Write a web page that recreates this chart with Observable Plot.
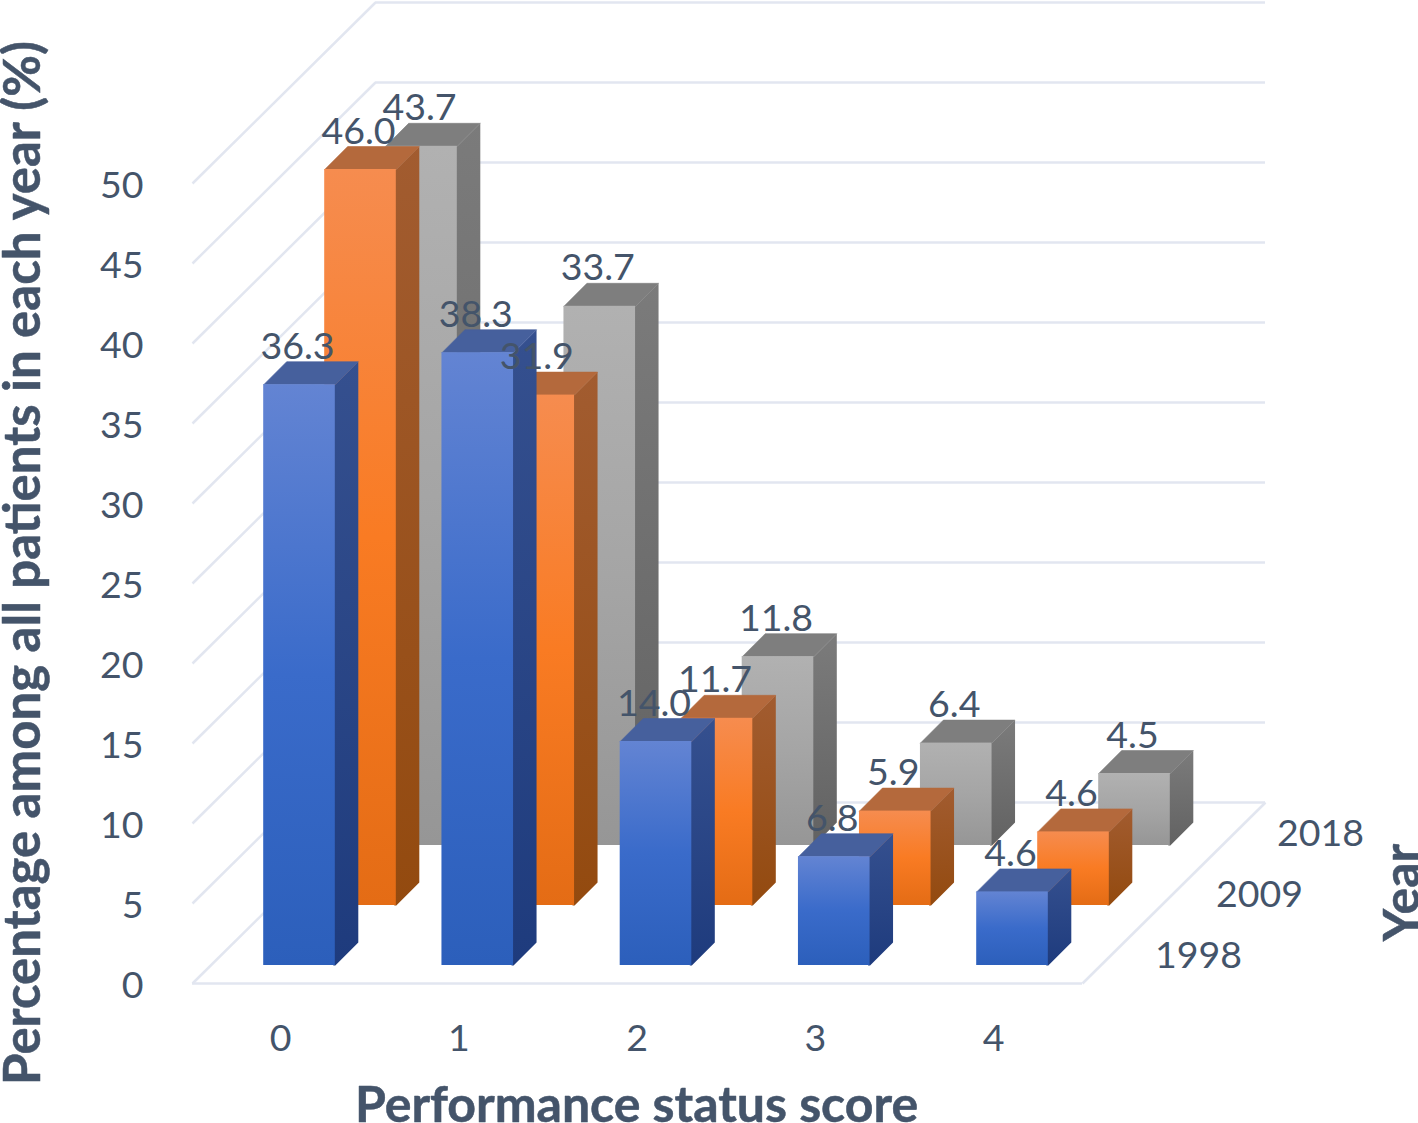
<!DOCTYPE html>
<html>
<head>
<meta charset="utf-8">
<style>html,body{margin:0;padding:0;background:#fff;overflow:hidden}svg{display:block}</style>
<script src="https://cdn.jsdelivr.net/npm/d3@7"></script>
<script src="https://cdn.jsdelivr.net/npm/@observablehq/plot@0.6"></script>
</head>
<body>
<div id="chart"></div>
<script>
const categories = [0, 1, 2, 3, 4];
const years = [1998, 2009, 2018];
const values1998 = [36.3, 38.3, 14.0, 6.8, 4.6];
const values2009 = [46.0, 31.9, 11.7, 5.9, 4.6];
const values2018 = [43.7, 33.7, 11.8, 6.4, 4.5];
const yTicks = [0, 5, 10, 15, 20, 25, 30, 35, 40, 45, 50];
const xTitle = "Performance status score";
const yTitle = "Percentage among all patients in each year (%)";
const depthTitle = "Year";

// Oblique projection, in data units (one category wide, one percent tall)
const pxX = 178.25, pxY = 16;
const halfBar = 35.8 / pxX;
const barDepthX = 23 / pxX, barDepthY = 23 / pxY;
const rowStepX = 61 / pxX, rowStepY = 60 / pxY;
const floorFront = 18 / pxY;
const wallX = 183 / pxX, wallY = 181 / pxY;
const floorLeft = -107 / pxX, floorRight = 783 / pxX;
const tuck = 2 / pxX; // side face runs slightly under the front face, so no seam shows

const seriesByYear = [values1998, values2009, values2018];
const palette = [
  {id: "b", front: ["#6384d3", "#3a6bca", "#2c5fbb"], side: ["#35508f", "#1e3b7d"], top: "#46609d"},
  {id: "o", front: ["#f68c4f", "#f97b23", "#e46c15"], side: ["#a25c30", "#934a0f"], top: "#b4693c"},
  {id: "g", front: ["#b1b1b1", "#a5a5a5", "#969696"], side: ["#7b7b7b", "#626262"], top: "#7e7e7e"}
];
const ink = "#44546a", grid = "#e2e6f0";
const numSize = 37.5;

function defs() {
  const d = d3.create("svg:defs");
  for (const p of palette) {
    const f = d.append("linearGradient").attr("id", p.id + "f").attr("x1", 0).attr("y1", 0).attr("x2", 0).attr("y2", 1);
    p.front.forEach((c, i) => f.append("stop").attr("offset", i / 2).attr("stop-color", c));
    const s = d.append("linearGradient").attr("id", p.id + "s").attr("x1", 0).attr("y1", 0).attr("x2", 0).attr("y2", 1);
    p.side.forEach((c, i) => s.append("stop").attr("offset", i).attr("stop-color", c));
  }
  return d.node();
}

function barsOf(r) {
  return categories.map((c, i) => {
    const v = seriesByYear[r][i];
    const cx = c + r * rowStepX, base = floorFront + r * rowStepY;
    return {c, v, x1: cx - halfBar, x2: cx + halfBar, cx, y0: base, y1: base + v};
  });
}

function rowMarks(r) {
  const p = palette[r];
  const bars = barsOf(r);
  const poly = (fn) => bars.flatMap((b) => fn(b).map(([x, y]) => ({c: b.c, x, y})));
  const side = poly((b) => [[b.x2 - tuck, b.y0], [b.x2, b.y0], [b.x2 + barDepthX, b.y0 + barDepthY], [b.x2 + barDepthX, b.y1 + barDepthY], [b.x2, b.y1], [b.x2 - tuck, b.y1]]);
  const top = poly((b) => [[b.x1, b.y1], [b.x1 + barDepthX, b.y1 + barDepthY], [b.x2 + barDepthX, b.y1 + barDepthY], [b.x2, b.y1]]);
  return [
    Plot.line(side, {x: "x", y: "y", z: "c", fill: `url(#${p.id}s)`, stroke: "none"}),
    Plot.line(top, {x: "x", y: "y", z: "c", fill: p.top, stroke: p.top, strokeWidth: 0.6}),
    Plot.rect(bars, {x1: "x1", x2: "x2", y1: "y0", y2: "y1", fill: `url(#${p.id}f)`})
  ];
}

const labelMarks = (r) => Plot.text(barsOf(r), {x: "cx", y: "y1", text: (d) => d3.format(".1f")(d.v), dx: -2, dy: -38, fontSize: numSize, fill: ink});

const wallLines = yTicks.map((v) => ({v}));
const plot = Plot.plot({
  width: 1418, height: 1123,
  marginTop: 0, marginRight: 0, marginBottom: 0, marginLeft: 0,
  x: {domain: [-299 / pxX, (1418 - 299) / pxX], range: [0, 1418]},
  y: {domain: [(983 - 1123) / pxY, 983 / pxY], range: [1123, 0]},
  style: {fontFamily: "Lato, Carlito, sans-serif", background: "#fff", color: ink},
  marks: [
    defs,
    // back wall and left wall
    Plot.ruleY(wallLines, {y: (d) => d.v + wallY, x1: floorLeft + wallX, x2: floorRight + wallX, stroke: grid, strokeWidth: 2.5}),
    Plot.link(wallLines, {x1: floorLeft, y1: "v", x2: floorLeft + wallX, y2: (d) => d.v + wallY, stroke: grid, strokeWidth: 2.5}),
    // floor
    Plot.ruleY([0], {x1: floorLeft, x2: floorRight, stroke: grid, strokeWidth: 2.5}),
    Plot.link([0], {x1: floorRight, y1: 0, x2: floorRight + wallX, y2: wallY, stroke: grid, strokeWidth: 2.5}),
    // bars, back to front, then their value labels above every bar
    ...rowMarks(2), ...rowMarks(1), ...rowMarks(0),
    labelMarks(2), labelMarks(1), labelMarks(0),
    // axes
    Plot.axisY({ticks: yTicks, tickSize: 0, tickPadding: 0, dx: 143, dy: 2, label: null, fontSize: numSize, color: ink}),
    Plot.axisX({ticks: categories, tickSize: 0, tickPadding: 0, dx: -19, dy: -99, label: null, fontSize: numSize, color: ink, tickFormat: (d) => d}),
    Plot.text(years, {
      x: (d, i) => floorRight + 116 / pxX + i * rowStepX,
      y: (d, i) => 28 / pxY + i * (61 / pxY),
      text: (d) => String(d), fontSize: numSize, fill: ink
    }),
    // titles
    Plot.text([xTitle], {frameAnchor: "top-left", dx: 636, dy: 1105, textAnchor: "middle", lineAnchor: "middle", fontSize: 50, fontWeight: 700, fill: ink, stroke: ink, strokeWidth: 0.5}),
    Plot.text([yTitle], {frameAnchor: "top-left", dx: 23, dy: 562.5, rotate: -90, textAnchor: "middle", lineAnchor: "middle", fontSize: 51, fontWeight: 700, fill: ink, stroke: ink, strokeWidth: 0.5}),
    Plot.text([depthTitle], {frameAnchor: "top-left", dx: 1402, dy: 892, rotate: -90, textAnchor: "middle", lineAnchor: "middle", fontSize: 50, fontWeight: 700, fill: ink, stroke: ink, strokeWidth: 0.5})
  ]
});
document.getElementById("chart").append(plot);
</script>
</body>
</html>
